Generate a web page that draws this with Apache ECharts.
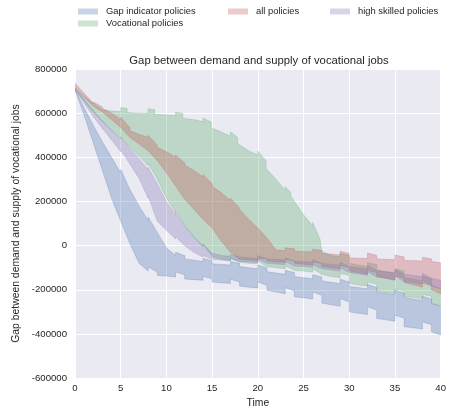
<!DOCTYPE html>
<html><head><meta charset="utf-8">
<script src="https://cdn.jsdelivr.net/npm/echarts@6/dist/echarts.min.js"></script>
<style>html,body{margin:0;padding:0;background:#fff}#c{width:449px;height:413px}</style>
</head><body><div id="c"></div>
<script>
// ---- data (time, value) ----
const gapUpper = [[0,705000],[1,625000],[2,545000],[3,470000],[4,400000],[5,330000],[5,345000],[6,255000],[7,180000],[8,115000],[8,130000],[9,60000],[10,-10000],[11,-45000],[11,-30000],[12,-45000],[12,-60000],[13,-66000],[14,-72000],[14,-58000],[15,-68000],[15,-82000],[16,-85000],[17,-88000],[17,-72000],[18,-80000],[18,-95000],[19,-100000],[20,-105000],[20,-88000],[21,-100000],[21,-118000],[22,-124000],[23,-130000],[23,-112000],[24,-122000],[24,-140000],[25,-145000],[26,-150000],[26,-132000],[27,-142000],[27,-160000],[28,-166000],[29,-172000],[29,-152000],[30,-165000],[30,-185000],[31,-190000],[32,-196000],[32,-175000],[33,-190000],[33,-210000],[34,-216000],[35,-222000],[35,-200000],[36,-215000],[36,-235000],[37,-242000],[38,-248000],[38,-228000],[39,-242000],[39,-262000],[40,-275000]];
const gapLower = [[0,705000],[1,590000],[2,465000],[3,340000],[4,215000],[5,110000],[6,10000],[7,-80000],[8,-115000],[8,-97000],[9,-120000],[9,-135000],[10,-138000],[11,-142000],[11,-120000],[12,-132000],[12,-151000],[13,-154000],[14,-157000],[14,-140000],[15,-150000],[15,-165000],[16,-168000],[17,-172000],[17,-152000],[18,-165000],[18,-183000],[19,-188000],[20,-192000],[20,-165000],[21,-180000],[21,-202000],[22,-210000],[23,-218000],[23,-190000],[24,-205000],[24,-232000],[25,-236000],[26,-242000],[26,-210000],[27,-225000],[27,-260000],[28,-268000],[29,-275000],[29,-240000],[30,-255000],[30,-300000],[31,-306000],[32,-312000],[32,-277000],[33,-292000],[33,-330000],[34,-336000],[35,-342000],[35,-315000],[36,-328000],[36,-367000],[37,-372000],[38,-378000],[38,-345000],[39,-358000],[39,-390000],[40,-405000]];
const vocUpper = [[0,715000],[1,675000],[2,645000],[3,615000],[4,610000],[5,607000],[5,625000],[5.7,622000],[5.7,603000],[7,600000],[8,598000],[8,620000],[8.7,615000],[8.7,595000],[10,592000],[11,588000],[11,605000],[11.8,598000],[11.8,577000],[13,570000],[14,562000],[14,578000],[14.9,560000],[14.9,534000],[16,515000],[17,495000],[17,515000],[17.8,490000],[17.8,462000],[19,430000],[20,410000],[20,428000],[20.9,385000],[20.9,350000],[22,300000],[23,250000],[23,268000],[23.6,240000],[23.6,225000],[24,200000],[25,140000],[26,90000],[26,105000],[26.8,30000],[27,-25000],[28,-45000],[29,-50000],[29,-35000],[30,-45000],[30,-80000],[31,-88000],[32,-95000],[32,-78000],[33,-85000],[33,-110000],[34,-118000],[35,-125000],[35,-105000],[36,-115000],[36,-145000],[37,-152000],[38,-160000],[38,-138000],[39,-150000],[39,-180000],[40,-195000]];
const vocLower = [[0,705000],[1,655000],[2,605000],[3,562000],[4,522000],[5,485000],[5,495000],[6,445000],[7,405000],[8,362000],[8,372000],[9,300000],[10,215000],[11,150000],[11,160000],[12,90000],[13,40000],[14,-5000],[14,5000],[15,-50000],[16,-62000],[17,-68000],[17,-58000],[18,-75000],[19,-80000],[20,-82000],[20,-70000],[21,-95000],[22,-100000],[23,-105000],[23,-92000],[24,-112000],[25,-115000],[26,-120000],[26,-105000],[27,-130000],[28,-140000],[29,-145000],[29,-125000],[30,-135000],[30,-170000],[31,-178000],[32,-183000],[32,-165000],[33,-175000],[33,-205000],[34,-212000],[35,-218000],[35,-195000],[36,-205000],[36,-230000],[37,-235000],[38,-240000],[38,-220000],[39,-230000],[39,-262000],[40,-272000]];
const allUpper = [[0,735000],[1,690000],[2,645000],[2,650000],[3,628000],[3,622000],[4,600000],[5,572000],[5,582000],[6,535000],[6,520000],[7,505000],[8,490000],[8,500000],[9,455000],[9,445000],[10,425000],[11,400000],[11,410000],[12,375000],[12,365000],[13,340000],[14,312000],[14,322000],[15,280000],[15,270000],[16,240000],[17,205000],[17,215000],[18,170000],[18,165000],[19,120000],[20,80000],[21,35000],[22,-20000],[23,-22000],[23,-10000],[24,-14000],[24,-25000],[25,-27000],[26,-28000],[26,-16000],[27,-22000],[27,-35000],[28,-38000],[29,-42000],[29,-25000],[30,-36000],[30,-55000],[31,-57000],[32,-58000],[32,-33000],[33,-45000],[33,-60000],[34,-62000],[35,-64000],[35,-42000],[36,-52000],[36,-67000],[37,-68000],[38,-70000],[38,-53000],[39,-60000],[39,-72000],[40,-78000]];
const allLower = [[0,720000],[1,672000],[2,632000],[3,605000],[4,570000],[5,535000],[6,490000],[7,460000],[8,430000],[9,385000],[10,330000],[11,270000],[12,210000],[13,165000],[14,120000],[15,80000],[16,20000],[17,-30000],[18,-62000],[19,-65000],[20,-67000],[20,-57000],[21,-60000],[21,-70000],[22,-73000],[23,-76000],[23,-64000],[24,-68000],[24,-80000],[25,-84000],[26,-88000],[26,-75000],[27,-80000],[27,-94000],[28,-100000],[29,-105000],[29,-90000],[30,-98000],[30,-115000],[31,-122000],[32,-130000],[32,-112000],[33,-122000],[33,-140000],[34,-148000],[35,-157000],[35,-138000],[36,-148000],[36,-167000],[37,-177000],[38,-188000],[38,-170000],[39,-182000],[39,-200000],[40,-218000]];
const highUpper = [[0,715000],[1,662000],[2,612000],[3,565000],[4,522000],[5,482000],[5,492000],[6,440000],[7,395000],[8,345000],[8,355000],[9,280000],[10,200000],[11,140000],[11,150000],[12,88000],[13,40000],[14,-2000],[14,8000],[15,-35000],[16,-45000],[17,-48000],[17,-40000],[18,-52000],[19,-55000],[20,-57000],[20,-45000],[21,-60000],[22,-62000],[23,-65000],[23,-55000],[24,-70000],[25,-72000],[26,-75000],[26,-63000],[27,-80000],[28,-85000],[29,-88000],[29,-75000],[30,-95000],[31,-100000],[32,-105000],[32,-90000],[33,-112000],[34,-118000],[35,-122000],[35,-108000],[36,-130000],[37,-135000],[38,-140000],[38,-125000],[39,-148000],[40,-157000]];
const highLower = [[0,705000],[1,645000],[2,585000],[3,530000],[4,478000],[5,425000],[5,435000],[6,370000],[7,305000],[8,215000],[8,225000],[9,110000],[10,70000],[11,30000],[11,40000],[12,0],[13,-30000],[14,-52000],[14,-45000],[15,-62000],[16,-65000],[17,-68000],[17,-58000],[18,-72000],[19,-74000],[20,-76000],[20,-62000],[21,-80000],[22,-83000],[23,-86000],[23,-72000],[24,-92000],[25,-95000],[26,-98000],[26,-85000],[27,-105000],[28,-110000],[29,-115000],[29,-100000],[30,-122000],[31,-128000],[32,-134000],[32,-118000],[33,-142000],[34,-148000],[35,-154000],[35,-138000],[36,-162000],[37,-168000],[38,-174000],[38,-158000],[39,-182000],[40,-195000]];

const seriesNames = ['Gap indicator policies','Vocational policies','all policies','high skilled policies'];
const seriesRGB = ['76,114,176','85,168,104','196,78,82','129,114,178'];
const xMin = 0, xMax = 40, xStep = 5;
const yMin = -600000, yMax = 800000, yStep = 200000;
const titleText = 'Gap between demand and supply of vocational jobs';
const xName = 'Time';
const yName = 'Gap between demand and supply of vocational jobs';

const FONT = 'Liberation Sans, Arial, sans-serif';
const TXT = '#262626';

function band(name, rgb, lower, upper) {
  const fill = 'rgba(' + rgb + ',0.3)';
  return {
    type: 'custom', name: name, coordinateSystem: 'cartesian2d',
    data: lower.concat(upper), encode: {x: 0, y: 1},
    itemStyle: {color: fill}, silent: true, animation: false, clip: true,
    renderItem: function (params, api) {
      if (params.dataIndex !== 0) return null;
      const pts = lower.map(function (p) { return api.coord(p); })
        .concat(upper.slice().reverse().map(function (p) { return api.coord(p); }));
      return {type: 'polygon', shape: {points: pts},
        style: {fill: fill, stroke: 'rgba(' + rgb + ',0.3)', lineWidth: 0.8}};
    }
  };
}

const legendText = {fontFamily: FONT, fontSize: 9.4, color: TXT, padding: [0, 0, 0, 3]};
const legendBase = {itemWidth: 20, itemHeight: 6, icon: 'rect', selectedMode: false, textStyle: legendText, top: 7, padding: 0};

const chart = echarts.init(document.getElementById('c'), null, {renderer: 'canvas'});
chart.setOption({
  animation: false,
  backgroundColor: '#ffffff',
  title: {text: titleText, left: 259, top: 55, textAlign: 'center', padding: 0,
    textStyle: {fontFamily: FONT, fontSize: 11.3, fontWeight: 'normal', color: TXT}},
  legend: [
    Object.assign({}, legendBase, {data: [seriesNames[0], seriesNames[1]], orient: 'vertical', left: 78, itemGap: 3}),
    Object.assign({}, legendBase, {data: [seriesNames[2]], left: 228}),
    Object.assign({}, legendBase, {data: [seriesNames[3]], left: 330})
  ],
  grid: {left: 75, right: 6, top: 69, bottom: 33, show: true, backgroundColor: '#EAEAF2', borderWidth: 0},
  xAxis: {type: 'value', min: xMin, max: xMax, interval: xStep,
    name: xName, nameLocation: 'middle', nameGap: 19,
    nameTextStyle: {fontFamily: FONT, fontSize: 10.4, color: TXT},
    axisLine: {show: false}, axisTick: {show: false},
    axisLabel: {fontFamily: FONT, fontSize: 9.6, color: TXT, margin: 5},
    splitLine: {show: true, lineStyle: {color: '#ffffff', width: 1}}},
  yAxis: {type: 'value', min: yMin, max: yMax, interval: yStep,
    name: yName, nameLocation: 'middle', nameGap: 49, nameRotate: 90,
    nameTextStyle: {fontFamily: FONT, fontSize: 10.4, color: TXT},
    axisLine: {show: false}, axisTick: {show: false},
    axisLabel: {fontFamily: FONT, fontSize: 9.6, color: TXT, margin: 8, formatter: function (v) { return String(v); }},
    splitLine: {show: true, lineStyle: {color: '#ffffff', width: 1}}},
  series: [
    band(seriesNames[0], seriesRGB[0], gapLower, gapUpper),
    band(seriesNames[1], seriesRGB[1], vocLower, vocUpper),
    band(seriesNames[2], seriesRGB[2], allLower, allUpper),
    band(seriesNames[3], seriesRGB[3], highLower, highUpper)
  ]
});
</script></body></html>
